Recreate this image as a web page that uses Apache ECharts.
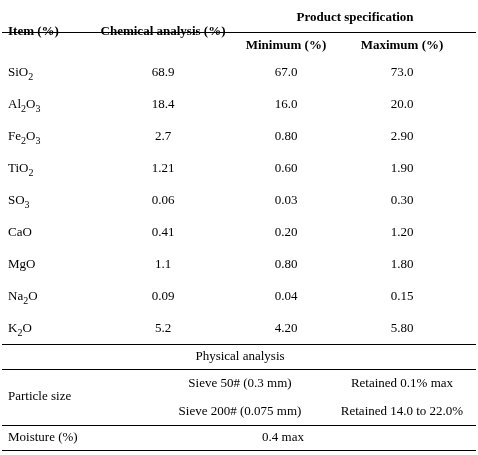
<!DOCTYPE html>
<html><head><meta charset="utf-8">
<script src="https://cdn.jsdelivr.net/npm/echarts@6/dist/echarts.min.js"></script>
<style>html,body{margin:0;background:#fff}#c{width:478px;height:455px}</style>
</head><body><div id="c"></div>
<script>
// table contents
var items = [['Si', 'O', '2'], ['Al', '2', 'O', '3'], ['Fe', '2', 'O', '3'], ['Ti', 'O', '2'], ['S', 'O', '3'], ['CaO'], ['MgO'], ['Na', '2', 'O'], ['K', '2', 'O']];
var chemical = ['68.9', '18.4', '2.7', '1.21', '0.06', '0.41', '1.1', '0.09', '5.2'];
var minimum = ['67.0', '16.0', '0.80', '0.60', '0.03', '0.20', '0.80', '0.04', '4.20'];
var maximum = ['73.0', '20.0', '2.90', '1.90', '0.30', '1.20', '1.80', '0.15', '5.80'];
var sieves = ['Sieve 50# (0.3 mm)', 'Sieve 200# (0.075 mm)'];
var retained = ['Retained 0.1% max', 'Retained 14.0 to 22.0%'];

var FONT = '"Liberation Serif", "DejaVu Serif", serif';
var els = [];
function txt(x, y, s, align, bold, rich) {
  els.push({type: 'text', x: x, y: y, style: {text: s, fill: '#000', font: (bold ? 'bold ' : '') + '13px ' + FONT,
    align: align || 'left', verticalAlign: 'middle', rich: rich}});
}
function hline(y) {
  els.push({type: 'line', shape: {x1: 2, y1: y, x2: 476, y2: y}, style: {stroke: '#000', lineWidth: 1}});
}
var rich = {n: {fontSize: 13, fontFamily: FONT, fill: '#000'}, s: {fontSize: 10, fontFamily: FONT, fill: '#000', padding: [8, 0, 0, 0]}};
function formula(parts) {
  // digits are subscripts
  return parts.map(function (p) { return /^\d+$/.test(p) ? '{s|' + p + '}' : '{n|' + p + '}'; }).join('');
}

txt(355, 18, 'Product specification', 'center', true);
txt(8, 32, 'Item (%)', 'left', true);
txt(163, 32, 'Chemical analysis (%)', 'center', true);
txt(286, 46, 'Minimum (%)', 'center', true);
txt(402, 46, 'Maximum (%)', 'center', true);
hline(32.5);

items.forEach(function (it, i) {
  var y = 73 + i * 32;
  txt(8, y, formula(it), 'left', false, rich);
  txt(163, y, chemical[i], 'center');
  txt(286, y, minimum[i], 'center');
  txt(402, y, maximum[i], 'center');
});
hline(344.5);
txt(240, 357, 'Physical analysis', 'center');
hline(369.5);
txt(8, 397, 'Particle size', 'left');
sieves.forEach(function (s, i) {
  txt(240, 384 + i * 28, s, 'center');
  txt(402, 384 + i * 28, retained[i], 'center');
});
hline(425.5);
txt(8, 438, 'Moisture (%)', 'left');
txt(283, 438, '0.4 max', 'center');
hline(450.5);

var chart = echarts.init(document.getElementById('c'));
chart.setOption({animation: false, graphic: {elements: els}});
</script></body></html>
